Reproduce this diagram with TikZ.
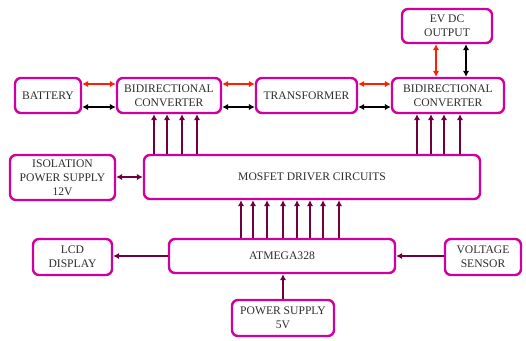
\documentclass[tikz,border=0pt]{standalone}
\usepackage{fontspec}
\setmainfont{Liberation Serif}
\usepackage{tikz}
\usetikzlibrary{arrows.meta}
\usepackage{xcolor}
\definecolor{boxpink}{RGB}{208,0,158}
\definecolor{wine}{RGB}{112,0,62}
\definecolor{flowred}{RGB}{255,32,0}
\definecolor{textgrey}{RGB}{45,45,45}
\tikzset{%
    block/.style={%
        draw=boxpink, line width=2.4pt, rounded corners=6pt, fill=white,
        align=center, text=textgrey, inner sep=2pt,
        font=\fontsize{11.6}{14.2}\selectfont
    },
    power/.style={<->, line width=1.8pt, flowred},
    ground/.style={<->, line width=1.8pt, black},
    ctrl/.style={->, line width=1.8pt, wine}
}

\begin{document}
\begin{tikzpicture}[x=1pt,y=-1pt,>={Latex[length=6pt,width=6.5pt]}]
    \useasboundingbox (0,0) rectangle (526,340);
    % top row
    \node[block, minimum width=66pt, minimum height=35pt] (batt) at (48,95.5) {BATTERY};
    \node[block, minimum width=104pt, minimum height=35pt] (conv1) at (169,95.5) {BIDIRECTIONAL\\CONVERTER};
    \node[block, minimum width=101pt, minimum height=35pt] (trans) at (306.5,95.5) {TRANSFORMER};
    \node[block, minimum width=112pt, minimum height=35pt] (conv2) at (448,95.5) {BIDIRECTIONAL\\CONVERTER};
    \node[block, minimum width=90pt, minimum height=34pt] (evout) at (447,26) {EV DC\\OUTPUT};
    % driver row
    \node[block, minimum width=105pt, minimum height=45pt] (iso) at (62.5,177.5) {ISOLATION\\POWER SUPPLY\\12V};
    \node[block, minimum width=336pt, minimum height=44pt] (mosfet) at (312,177) {MOSFET DRIVER CIRCUITS};
    % controller row
    \node[block, minimum width=79pt, minimum height=36pt] (lcd) at (72.5,257) {LCD\\DISPLAY};
    \node[block, minimum width=226pt, minimum height=34pt] (atmega) at (282,256) {ATMEGA328};
    \node[block, minimum width=76pt, minimum height=36pt] (vsense) at (483,257) {VOLTAGE\\SENSOR};
    \node[block, minimum width=102pt, minimum height=36pt] (ps5) at (283,318) {POWER SUPPLY\\5V};

    % power and return paths
    \draw[power] ([yshift=11.5pt]batt.east) -- ([yshift=11.5pt]conv1.west);
    \draw[ground] ([yshift=-11.5pt]batt.east) -- ([yshift=-11.5pt]conv1.west);
    \draw[power] ([yshift=11.5pt]conv1.east) -- ([yshift=11.5pt]trans.west);
    \draw[ground] ([yshift=-11.5pt]conv1.east) -- ([yshift=-11.5pt]trans.west);
    \draw[power] ([yshift=11.5pt]trans.east) -- ([yshift=11.5pt]conv2.west);
    \draw[ground] ([yshift=-11.5pt]trans.east) -- ([yshift=-11.5pt]conv2.west);
    \draw[power] (436,0 |- evout.south) -- (436,0 |- conv2.north);
    \draw[ground] (466,0 |- evout.south) -- (466,0 |- conv2.north);

    % gate signals
    \foreach \x in {154,167,182,197}
    {
    \draw[ctrl] (\x,0 |- mosfet.north) -- (\x,0 |- conv1.south);
    }
    \foreach \x in {417,431,444,460}
    {
    \draw[ctrl] (\x,0 |- mosfet.north) -- (\x,0 |- conv2.south);
    }
    \foreach \x in {241,253,267,283,297,310,323,339}
    {
    \draw[ctrl] (\x,0 |- atmega.north) -- (\x,0 |- mosfet.south);
    }
    \draw[ctrl, <->] (iso.east |- mosfet.west) -- (mosfet.west);
    \draw[ctrl] (atmega.west) -- (lcd.east |- atmega.west);
    \draw[ctrl] (vsense.west |- atmega.east) -- (atmega.east);
    \draw[ctrl] (ps5.north) -- (ps5.north |- atmega.south);
\end{tikzpicture}
\end{document}
